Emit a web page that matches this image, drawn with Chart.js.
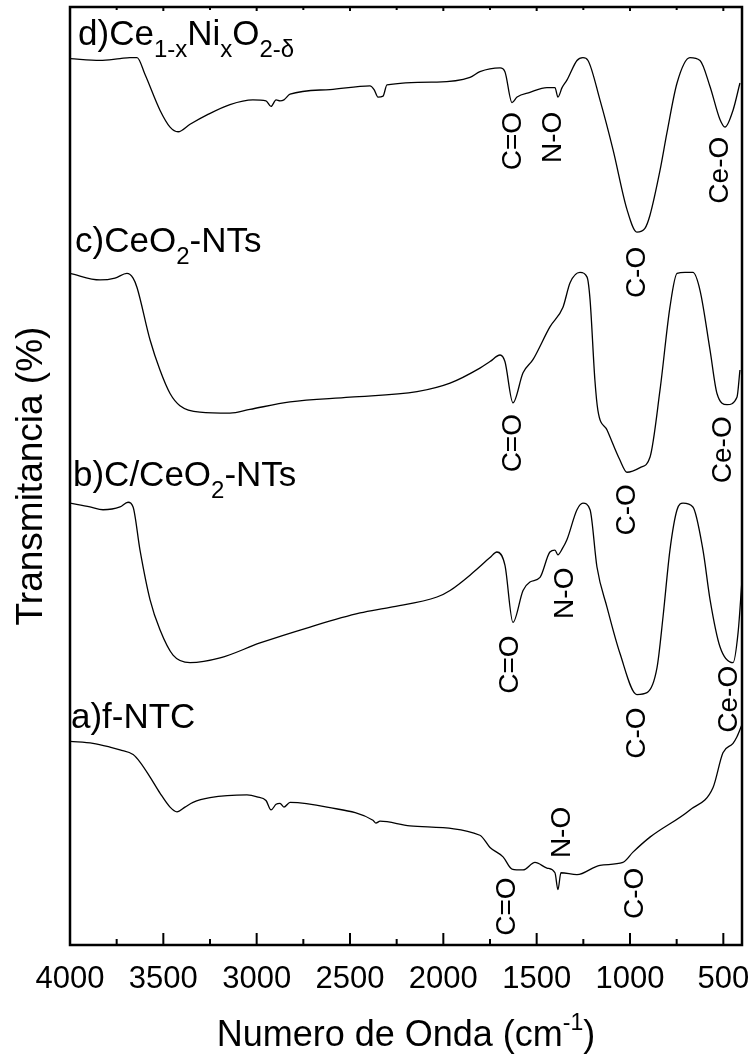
<!DOCTYPE html>
<html>
<head>
<meta charset="utf-8">
<script src="https://cdn.jsdelivr.net/npm/chart.js@4.4.0/dist/chart.umd.min.js"></script>
<style>
    html, body { margin: 0; padding: 0; background: #fff; }
    canvas { display: block; }
</style>
</head>
<body>
<canvas id="graph" width="753" height="1059"></canvas>
<script>
// FTIR spectra, wavenumber (cm-1) vs. stacked transmittance (arb. units, 0-100)
const waveD = [4000,3839,3732,3679,3641,3598,3518,3464,3421,3357,3266,3143,3020,2950,2923,2896,2875,2854,2821,2607,2393,2371,2350,2323,2302,2034,1857,1804,1696,1670,1632,1605,1536,1445,1402,1386,1364,1338,1284,1252,1225,1161,1091,1016,963,920,893,839,802,748,679,625,571,518,491,448,411];
const transD = [94.5,94.3,94.5,94.6,94.6,92.8,89.0,87.2,86.7,87.5,88.5,89.6,90.1,90.0,89.4,90.1,90.0,90.1,90.7,91.2,91.6,91.2,90.4,90.5,91.7,92.0,92.5,93.1,93.5,93.1,89.8,90.4,90.9,91.4,91.4,90.4,91.4,92.2,94.3,94.6,94.3,90.1,84.8,78.4,76.0,76.4,77.8,82.6,86.6,91.9,94.6,94.3,91.5,88.0,87.2,89.0,91.9];

const waveC = [4000,3839,3759,3695,3662,3641,3571,3518,3464,3411,3304,3143,3036,2821,2500,2141,1964,1804,1750,1696,1670,1627,1573,1520,1429,1359,1321,1268,1230,1214,1188,1172,1123,1054,1016,946,893,839,786,748,705,663,625,571,534,480,427,411];
const transC = [71.6,70.9,71.1,71.6,71.1,70.1,64.5,61.3,58.8,57.5,56.8,56.7,57.1,57.9,58.4,59.0,59.9,61.5,62.2,62.9,62.2,57.8,61.0,62.4,65.9,68.0,70.6,71.7,71.2,68.8,60.2,57.0,54.9,51.7,50.4,50.9,52.0,59.2,68.0,71.6,71.7,71.7,69.8,63.4,58.8,57.6,58.4,61.3];

const waveB = [4000,3893,3823,3732,3689,3662,3625,3571,3518,3448,3357,3196,2982,2714,2446,2286,2034,1964,1841,1750,1713,1670,1627,1573,1536,1482,1429,1402,1386,1364,1338,1284,1252,1214,1177,1123,1054,963,909,855,823,786,748,716,663,609,571,518,448,421,400];
const transB = [47.1,46.7,46.4,46.7,47.2,46.7,42.1,36.8,33.6,30.9,30.1,30.6,32.2,33.9,35.4,36.0,37.1,37.8,39.7,41.3,41.9,40.5,34.4,37.8,38.7,39.2,41.9,42.1,41.6,42.2,43.2,46.4,47.1,46.4,40.3,36.0,31.1,26.7,26.9,29.6,35.0,42.1,46.4,47.1,46.7,42.1,36.8,31.8,30.1,33.3,38.9];

const waveA = [4000,3877,3786,3732,3662,3625,3571,3518,3464,3427,3384,3341,3250,3052,2998,2950,2923,2896,2875,2854,2821,2623,2377,2361,2339,2179,1804,1750,1680,1632,1573,1509,1445,1402,1386,1370,1284,1161,1038,984,893,679,555,502,448,427,400];
const transA = [21.7,21.5,21.1,20.8,20.3,19.5,17.9,16.2,14.7,14.2,14.7,15.2,15.7,16.0,15.8,15.4,14.4,15.0,15.1,14.7,15.2,14.7,13.3,13.0,13.2,12.7,11.7,10.4,9.4,8.1,8.0,8.8,8.2,7.7,5.9,7.7,7.5,8.5,8.8,9.9,11.5,14.4,16.8,20.5,21.5,22.2,23.5];

// axis ticks
const majorTicks = [4000,3500,3000,2500,2000,1500,1000,500];
const minorTicks = [3750,3250,2750,2250,1750,1250,750];

// band assignments: text, wavenumber, level
const bandText  = ['C=O','N-O','C-O','Ce-O', 'C=O','C-O','Ce-O', 'C=O','N-O','C-O','Ce-O', 'C=O','N-O','C-O'];
const bandWave  = [1627,1413,963,518, 1627,1016,502, 1643,1348,963,470, 1659,1364,973];
const bandLevel = [85.7,86.1,71.7,82.6, 53.5,46.4,52.8, 29.9,37.5,22.6,26.2, 4.1,12.0,5.5];

// sample names: [text, isSubscript]
const sampleNames = [
    [['d)Ce', 0], ['1-x', 1], ['Ni', 0], ['x', 1], ['O', 0], ['2-\u03b4', 1]],
    [['c)CeO', 0], ['2', 1], ['-NTs', 0]],
    [['b)C/CeO', 0], ['2', 1], ['-NTs', 0]],
    [['a)f-NTC', 0]]
];
const nameWave  = [3957, 3973, 3984, 3995];
const nameLevel = [95.9, 73.9, 48.9, 23.1];

const FONT = "'Liberation Sans', Arial, sans-serif";

function toPoints(xs, ys) {
    return xs.map((x, i) => ({ x: x, y: ys[i] }));
}

const decorations = {
    id: 'decorations',
    afterDraw(chart) {
        const { ctx, chartArea: a, scales: { x, y } } = chart;
        ctx.save();
        ctx.strokeStyle = '#000';
        ctx.fillStyle = '#000';

        // frame
        ctx.lineWidth = 2.5;
        ctx.strokeRect(a.left, a.top, a.right - a.left, a.bottom - a.top);

        // inward ticks
        const tick = (v, len, top) => {
            const px = x.getPixelForValue(v);
            ctx.beginPath();
            ctx.moveTo(px, a.bottom);
            ctx.lineTo(px, a.bottom - len);
            ctx.moveTo(px, a.top);
            ctx.lineTo(px, a.top + top);
            ctx.stroke();
        };
        ctx.lineWidth = 2;
        majorTicks.forEach(v => tick(v, 12, 4));
        minorTicks.forEach(v => tick(v, 6, 3));

        // band labels, rotated
        ctx.font = '28px ' + FONT;
        ctx.textAlign = 'center';
        ctx.textBaseline = 'middle';
        bandText.forEach((t, i) => {
            ctx.save();
            ctx.translate(x.getPixelForValue(bandWave[i]), y.getPixelForValue(bandLevel[i]));
            ctx.rotate(-Math.PI / 2);
            ctx.fillText(t, 0, 0);
            ctx.restore();
        });

        // sample names with subscripts
        ctx.textAlign = 'left';
        ctx.textBaseline = 'alphabetic';
        sampleNames.forEach((parts, i) => {
            let px = x.getPixelForValue(nameWave[i]);
            const py = y.getPixelForValue(nameLevel[i]);
            for (const [text, sub] of parts) {
                ctx.font = (sub ? '24px ' : '35px ') + FONT;
                ctx.fillText(text, px, sub ? py + 12 : py);
                px += ctx.measureText(text).width;
            }
        });

        // x axis title with superscript
        const main1 = 'Numero de Onda (cm', sup = '-1', main2 = ')';
        ctx.font = '36px ' + FONT;
        const w1 = ctx.measureText(main1).width;
        const w3 = ctx.measureText(main2).width;
        ctx.font = '23px ' + FONT;
        const w2 = ctx.measureText(sup).width;
        let tx = (a.left + a.right) / 2 - (w1 + w2 + w3) / 2;
        const ty = 1046;
        ctx.font = '36px ' + FONT;
        ctx.fillText(main1, tx, ty);
        tx += w1;
        ctx.font = '23px ' + FONT;
        ctx.fillText(sup, tx, ty - 16);
        tx += w2;
        ctx.font = '36px ' + FONT;
        ctx.fillText(main2, tx, ty);

        ctx.restore();
    }
};

Chart.defaults.font.family = FONT;
Chart.defaults.color = '#000';

const lineStyle = {
    borderColor: '#000',
    borderWidth: 1.3,
    pointRadius: 0,
    fill: false,
    cubicInterpolationMode: 'monotone'
};

new Chart(document.getElementById('graph'), {
    type: 'line',
    data: {
        datasets: [
            { label: 'a', data: toPoints(waveA, transA), ...lineStyle },
            { label: 'b', data: toPoints(waveB, transB), ...lineStyle },
            { label: 'c', data: toPoints(waveC, transC), ...lineStyle },
            { label: 'd', data: toPoints(waveD, transD), ...lineStyle }
        ]
    },
    options: {
        responsive: false,
        animation: false,
        layout: { padding: { top: 7, right: 11, left: 0, bottom: 0 } },
        plugins: {
            legend: { display: false },
            tooltip: { enabled: false }
        },
        scales: {
            x: {
                type: 'linear',
                reverse: true,
                min: 400,
                max: 4000,
                grid: { display: false, drawTicks: false },
                border: { display: false },
                afterBuildTicks: s => { s.ticks = majorTicks.map(v => ({ value: v })); },
                ticks: {
                    autoSkip: false,
                    padding: 16,
                    maxRotation: 0,
                    font: { size: 31 },
                    color: '#000',
                    callback: v => String(v)
                },
                afterFit: s => {
                    s.height = 114;
                    s.paddingLeft = 0;
                    s.paddingRight = 0;
                }
            },
            y: {
                type: 'linear',
                min: 0,
                max: 100,
                grid: { display: false, drawTicks: false },
                border: { display: false },
                ticks: { display: false },
                title: {
                    display: true,
                    text: 'Transmitancia (%)',
                    font: { size: 37 },
                    color: '#000',
                    padding: { top: 10, bottom: 0 }
                },
                afterFit: s => { s.width = 70; }
            }
        }
    },
    plugins: [decorations]
});
</script>
</body>
</html>
